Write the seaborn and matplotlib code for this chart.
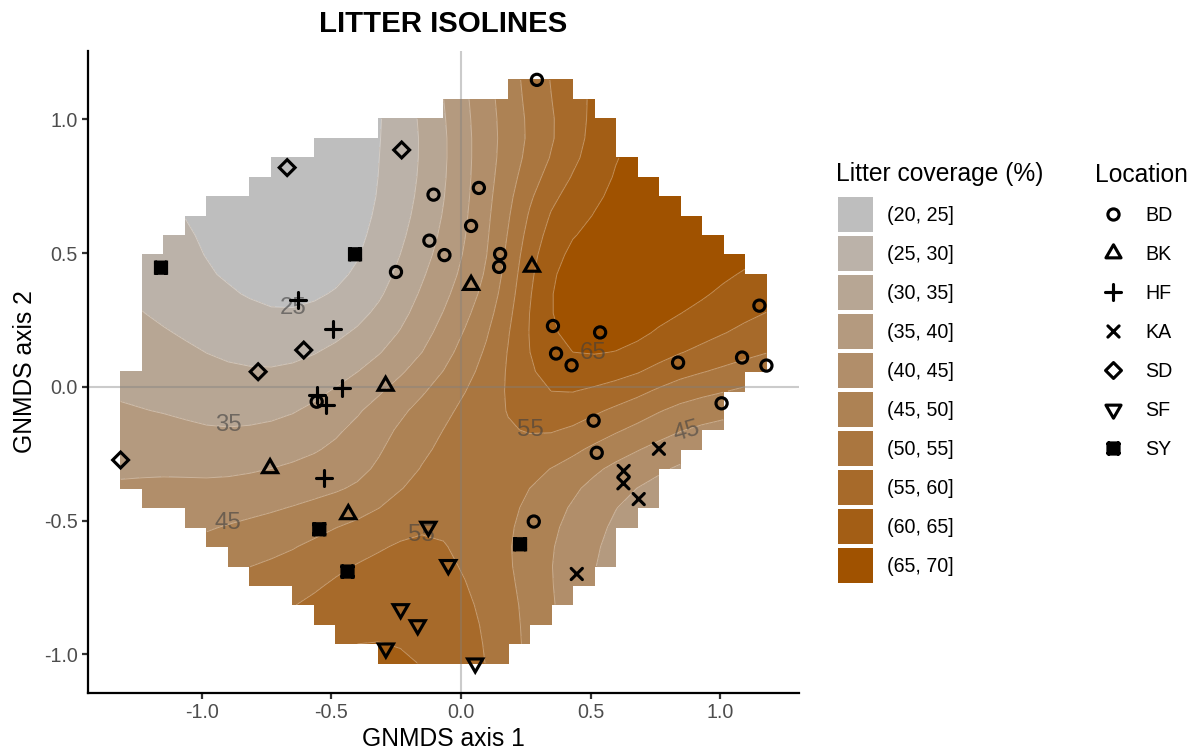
import numpy as np
import pandas as pd
import matplotlib
matplotlib.use("Agg")
import matplotlib.pyplot as plt
import seaborn as sns
from matplotlib.path import Path
from matplotlib.markers import MarkerStyle
from matplotlib.transforms import Affine2D
from matplotlib.patches import Rectangle
from matplotlib.lines import Line2D

W, H, DPI = 1196, 751, 150

# ---------------------------------------------------------------------------
# Site scores on the two GNMDS axes, one pair of lists per location
# ---------------------------------------------------------------------------
BD_axis1 = [0.293, -0.106, 0.069, 0.039, -0.122, -0.064, -0.251, 0.151, 0.147, 0.355, 0.537,
            0.367, 0.427, 0.838, 1.085, 1.152, 1.179, 1.006, 0.512, 0.524, 0.281, -0.557]
BD_axis2 = [1.148, 0.719, 0.744, 0.602, 0.547, 0.493, 0.430, 0.497, 0.449, 0.228, 0.204,
            0.125, 0.081, 0.091, 0.110, 0.304, 0.080, -0.061, -0.126, -0.246, -0.503, -0.055]
BK_axis1 = [0.039, 0.274, -0.291, -0.737, -0.435]
BK_axis2 = [0.381, 0.449, 0.004, -0.304, -0.476]
HF_axis1 = [-0.629, -0.493, -0.458, -0.557, -0.521, -0.528]
HF_axis2 = [0.325, 0.216, -0.005, -0.030, -0.067, -0.341]
KA_axis1 = [0.764, 0.628, 0.627, 0.686, 0.447]
KA_axis2 = [-0.231, -0.314, -0.360, -0.419, -0.699]
SD_axis1 = [-0.671, -0.229, -0.607, -0.783, -1.314]
SD_axis2 = [0.820, 0.886, 0.138, 0.057, -0.273]
SF_axis1 = [-0.126, -0.049, -0.233, -0.167, -0.290, 0.055]
SF_axis2 = [-0.522, -0.665, -0.830, -0.890, -0.977, -1.033]
SY_axis1 = [-1.158, -0.409, -0.547, -0.438, 0.228]
SY_axis2 = [0.446, 0.496, -0.532, -0.690, -0.588]

locations = ["BD", "BK", "HF", "KA", "SD", "SF", "SY"]
scores = {
    "BD": (BD_axis1, BD_axis2), "BK": (BK_axis1, BK_axis2), "HF": (HF_axis1, HF_axis2),
    "KA": (KA_axis1, KA_axis2), "SD": (SD_axis1, SD_axis2), "SF": (SF_axis1, SF_axis2),
    "SY": (SY_axis1, SY_axis2),
}

# ---------------------------------------------------------------------------
# Fitted litter-coverage surface (%), sampled on a coarse 0.25-step lattice
# rows follow surface_axis2 (bottom -> top), columns follow surface_axis1
# ---------------------------------------------------------------------------
surface_axis1 = [-1.4, -1.15, -0.9, -0.65, -0.4, -0.15, 0.1, 0.35, 0.6, 0.85, 1.1, 1.35]
surface_axis2 = [-1.1, -0.85, -0.6, -0.35, -0.1, 0.15, 0.4, 0.65, 0.9, 1.15]
litter_row_m110 = [48, 52, 56, 59, 62, 60.5, 55, 46, 39, 35, 33, 32]
litter_row_m085 = [45, 49, 53, 55.5, 58.3, 58, 54.2, 45.5, 38, 34, 32, 31]
litter_row_m060 = [42, 44.5, 47.3, 49.8, 53.6, 55.8, 52.5, 45.3, 38.5, 35, 33, 32]
litter_row_m035 = [40, 40.3, 40.4, 42, 44.8, 51, 53, 48.6, 42.3, 38, 35, 33]
litter_row_m010 = [36, 35, 33.8, 35, 39.8, 46.8, 53.3, 57.5, 53.5, 48, 45, 41]
litter_row_p015 = [33, 31.2, 29, 28.5, 32.1, 39.5, 50.5, 63.8, 65.5, 61, 57, 54]
litter_row_p040 = [31, 27.5, 24.8, 23, 26, 34.8, 46, 64.6, 68, 67.5, 64, 61]
litter_row_p065 = [27, 25.5, 23.5, 21, 23.5, 31.6, 44, 60.3, 66.5, 68.5, 69, 69]
litter_row_p090 = [25, 23.5, 22, 21.5, 23, 30.5, 43, 54.8, 64.5, 68, 70, 71]
litter_row_p115 = [26, 24, 22, 21, 22, 31.5, 43.7, 55.3, 63, 68, 70, 70]

# Surface is shown only inside the sampled area: for every row of grid cells
# (31 x 31 node grid spanning the site scores) the first and last cell column
hull_first_col = [12, 10, 9, 8, 6, 5, 4, 3, 1, 0, 0, 0, 0, 0, 0,
                  1, 1, 1, 1, 1, 1, 2, 3, 4, 6, 7, 9, 12, 15, 18]
hull_last_col = [18, 19, 20, 21, 22, 23, 23, 24, 25, 25, 26, 27, 28, 28, 29,
                 30, 30, 30, 30, 30, 29, 28, 27, 26, 25, 24, 23, 23, 22, 21]

litter_breaks = [20, 25, 30, 35, 40, 45, 50, 55, 60, 65, 70]

# ---------------------------------------------------------------------------
sites = pd.concat(
    [pd.DataFrame({"axis1": scores[k][0], "axis2": scores[k][1], "Location": k}) for k in locations],
    ignore_index=True,
)

surface = np.array([litter_row_m110, litter_row_m085, litter_row_m060, litter_row_m035,
                    litter_row_m010, litter_row_p015, litter_row_p040, litter_row_p065,
                    litter_row_p090, litter_row_p115], dtype=float)


def cubic_resample(values, src, dst, axis):
    """Catmull-Rom resampling of a regular lattice along one axis."""
    v = np.moveaxis(np.asarray(values, float), axis, 0)
    padded = np.concatenate([2 * v[:1] - v[1:2], v, 2 * v[-1:] - v[-2:-1]], axis=0)
    src = np.asarray(src, float)
    pos = (np.asarray(dst, float) - src[0]) / (src[1] - src[0])
    idx = np.clip(np.floor(pos).astype(int), 0, len(src) - 2)
    t = (pos - idx)[:, None]
    t2, t3 = t * t, t * t * t
    w = [(-t3 + 2 * t2 - t) / 2, (3 * t3 - 5 * t2 + 2) / 2,
         (-3 * t3 + 4 * t2 + t) / 2, (t3 - t2) / 2]
    out = sum(w[k] * padded[idx + k] for k in range(4))
    return np.moveaxis(out, 0, axis)


n_grid = 31
gx = np.linspace(sites["axis1"].min(), sites["axis1"].max(), n_grid)
gy = np.linspace(sites["axis2"].min(), sites["axis2"].max(), n_grid)
z = cubic_resample(surface, surface_axis1, gx, axis=1)
z = cubic_resample(z, surface_axis2, gy, axis=0)
z = np.clip(z, litter_breaks[0] + 0.01, litter_breaks[-1] - 0.01)

cell_ok = np.zeros((n_grid - 1, n_grid - 1), bool)
for j, (a, b) in enumerate(zip(hull_first_col, hull_last_col)):
    cell_ok[j, a:b] = True
node_ok = np.zeros((n_grid, n_grid), bool)
node_ok[:-1, :-1] |= cell_ok
node_ok[1:, :-1] |= cell_ok
node_ok[:-1, 1:] |= cell_ok
node_ok[1:, 1:] |= cell_ok
z = np.ma.masked_where(~node_ok, z)

# gray -> brown ramp for the coverage classes
low_rgb = np.array([190, 190, 190]) / 255
high_rgb = np.array([160, 82, 0]) / 255
n_band = len(litter_breaks) - 1
band_colors = [tuple(low_rgb + (high_rgb - low_rgb) * k / (n_band - 1)) for k in range(n_band)]
band_labels = [f"({a}, {b}]" for a, b in zip(litter_breaks[:-1], litter_breaks[1:])]

# ---------------------------------------------------------------------------
sns.set_style("ticks")
plt.rcParams["font.family"] = ["Liberation Sans", "DejaVu Sans"]
plt.rcParams["axes.unicode_minus"] = False
plt.rcParams["text.color"] = "black"

FS_TITLE, FS_AXIS, FS_TICK, FS_TAG = 14.1, 11.8, 9.4, 11.5

fig = plt.figure(figsize=(W / DPI, H / DPI), dpi=DPI)
ax = fig.add_axes([88.3 / W, 1 - 692.5 / H, (798.7 - 88.3) / W, (692.5 - 50.7) / H])


def expanded(v):
    lo, hi = float(np.min(v)), float(np.max(v))
    pad = 0.05 * (hi - lo)
    return lo - pad, hi + pad


ax.set_xlim(*expanded(sites["axis1"]))
ax.set_ylim(*expanded(sites["axis2"]))

ax.contourf(gx, gy, z, levels=litter_breaks, colors=band_colors, corner_mask=False, zorder=1)
ax.contour(gx, gy, z, levels=litter_breaks[1:-1], colors="white", linewidths=0.45,
           alpha=0.35, corner_mask=False, zorder=1.5)

ax.axhline(0, color="#7f7f7f", alpha=0.4, lw=1.0, zorder=2)
ax.axvline(0, color="#7f7f7f", alpha=0.4, lw=1.0, zorder=2)

# contour level labels
contour_tags = [(25, -0.649, 0.295, 0), (35, -0.898, -0.142, 0), (45, -0.898, -0.507, 0),
                (55, -0.152, -0.553, 0), (55, 0.266, -0.161, 0), (65, 0.511, 0.126, 0),
                (45, 0.871, -0.167, 16)]
for level, tx, ty, rot in contour_tags:
    ax.text(tx, ty, str(level), fontsize=FS_TAG, color="#404040", alpha=0.6, ha="center",
            va="center", rotation=rot, rotation_mode="anchor", zorder=3)

# ----- point symbols (open shapes in the style of R plotting symbols) -------
R_PX = 5.6              # circle radius in pixels
BASE_PX = 10.0
BASE_PT = BASE_PX * 72 / DPI
MOVE, LINE, CLOSE = Path.MOVETO, Path.LINETO, Path.CLOSEPOLY


def symbol(spec, half_px):
    scale = half_px / (0.5 * BASE_PX)
    return MarkerStyle(spec, fillstyle="none", transform=Affine2D().scale(scale),
                       capstyle="round", joinstyle="miter")


tri_up = Path([(0, 1.555), (-1.347, -0.778), (1.347, -0.778), (0, 1.555)], [MOVE, LINE, LINE, CLOSE])
tri_dn = Path([(0, -1.555), (-1.347, 0.778), (1.347, 0.778), (0, -1.555)], [MOVE, LINE, LINE, CLOSE])
diamond = Path([(0, 1), (1, 0), (0, -1), (-1, 0), (0, 1)], [MOVE, LINE, LINE, LINE, CLOSE])
plus = Path([(-1, 0), (1, 0), (0, -1), (0, 1)], [MOVE, LINE, MOVE, LINE])
cross = Path([(-1, -1), (1, 1), (-1, 1), (1, -1)], [MOVE, LINE, MOVE, LINE])
box_x = Path([(-1, -1), (1, -1), (1, 1), (-1, 1), (-1, -1), (-1, -1), (1, 1), (-1, 1), (1, -1)],
             [MOVE, LINE, LINE, LINE, CLOSE, MOVE, LINE, MOVE, LINE])

location_markers = {
    "BD": symbol("o", R_PX),
    "BK": symbol(tri_up, 1.555 * R_PX),
    "HF": symbol(plus, 1.414 * R_PX),
    "KA": symbol(cross, 1.0 * R_PX),
    "SD": symbol(diamond, 1.414 * R_PX),
    "SF": symbol(tri_dn, 1.555 * R_PX),
    "SY": symbol(box_x, 0.86 * R_PX),
}
STROKE_PT = 1.5
# the boxed cross is drawn with a heavier pen so that it reads as a dark block
location_stroke = {loc: (2.2 if loc == "SY" else STROKE_PT) for loc in locations}

sns.scatterplot(data=sites, x="axis1", y="axis2", style="Location", style_order=locations,
                markers=location_markers, s=BASE_PT ** 2, color="black", legend=False,
                ax=ax, zorder=4)
pts = ax.collections[-1]
pts.set_facecolor("none")
pts.set_edgecolor("black")
pts.set_linewidths(sites["Location"].map(location_stroke).to_numpy())
pts.set_capstyle("round")
pts.set_joinstyle("miter")

# ----- axes styling ---------------------------------------------------------
ticks = [-1.0, -0.5, 0.0, 0.5, 1.0]
ax.set_xticks(ticks)
ax.set_yticks(ticks)
ax.set_xticklabels([f"{t:.1f}" for t in ticks])
ax.set_yticklabels([f"{t:.1f}" for t in ticks])
for side in ("top", "right"):
    ax.spines[side].set_visible(False)
for side in ("left", "bottom"):
    ax.spines[side].set_linewidth(1.07)
    ax.spines[side].set_color("black")
ax.tick_params(length=2.75, width=1.07, color="#333333", labelsize=FS_TICK,
               labelcolor="#4D4D4D", pad=2.2)
ax.set_xlabel("GNMDS axis 1", fontsize=FS_AXIS, color="black", labelpad=2.5)
ax.set_ylabel("GNMDS axis 2", fontsize=FS_AXIS, color="black", labelpad=3.5)

fig.text(443.5 / W, 1 - 32.5 / H, "LITTER ISOLINES", ha="center", va="baseline",
         fontsize=FS_TITLE, fontweight="bold", color="black")

# ----- legends --------------------------------------------------------------
def fx(px):
    return px / W


def fy(py):
    return 1 - py / H


KEY_TOP, KEY_SIZE, KEY_PITCH = 196.7, 35.0, 39.0
LABEL_DROP = FS_TICK * DPI / 72 * 0.716 / 2

fig.text(fx(836.5), fy(181.5), "Litter coverage (%)", fontsize=FS_AXIS, va="baseline", ha="left")
for k, (col, lab) in enumerate(zip(band_colors, band_labels)):
    top = KEY_TOP + k * KEY_PITCH
    fig.add_artist(Rectangle((fx(837.7), fy(top + KEY_SIZE)), KEY_SIZE / W, KEY_SIZE / H,
                             transform=fig.transFigure, facecolor=col, edgecolor="none"))
    fig.text(fx(886.7), fy(top + KEY_SIZE / 2 + LABEL_DROP), lab, fontsize=FS_TICK,
             va="baseline", ha="left")

fig.text(fx(1095), fy(181.5), "Location", fontsize=FS_AXIS, va="baseline", ha="left")
for k, loc in enumerate(locations):
    cy = KEY_TOP + k * KEY_PITCH + KEY_SIZE / 2
    fig.add_artist(Line2D([fx(1113.3)], [fy(cy)], transform=fig.transFigure, linestyle="none",
                          marker=location_markers[loc], markersize=BASE_PT,
                          markeredgewidth=location_stroke[loc], markeredgecolor="black",
                          markerfacecolor="none"))
    fig.text(fx(1145), fy(cy + LABEL_DROP), loc, fontsize=FS_TICK, va="baseline", ha="left")

fig.savefig("out.png", dpi=DPI)
